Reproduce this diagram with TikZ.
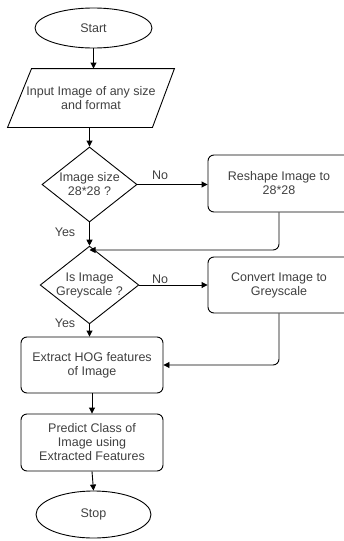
\documentclass[tikz,border=0pt]{standalone}
\usepackage{fontspec}
\setmainfont{Liberation Sans}
\usetikzlibrary{shapes.geometric,arrows.meta,calc}

\begin{document}
\begin{tikzpicture}[x=1pt,y=-1pt,
  line width=0.9pt,
  every node/.style={font=\fontsize{12.5}{14}\selectfont, text=black!75, align=center},
  terminal/.style={draw, ellipse, minimum width=117, minimum height=40, inner sep=0pt},
  decision/.style={draw, diamond, minimum width=95, minimum height=75, inner sep=0pt, aspect=1.27},
  process/.style={draw, rounded corners=6, minimum width=142, minimum height=57, inner sep=0pt},
  flow/.style={-{Triangle[length=6pt,width=6pt]}},
  answer/.style={inner sep=1pt}]
\colorlet{linecol}{black!85};
\def\turn{6};

\useasboundingbox (0,0) rectangle (343,541);

% Start and input
\node[terminal] (start) at (93.5,28) {Start};
\node[minimum width=166, minimum height=58, inner sep=0pt] (input) at (91,98) {Input Image of any size\\and format};
\draw ($(input.north west)+(24,0)$) -- (input.north east) -- ($(input.south east)+(-22,0)$) -- (input.south west) -- cycle;

% Size check
\node[decision] (size) at (89.5,184.5) {Image size\\28*28 ?};
\node[process] (reshape) at (279,183.5) {Reshape Image to\\28*28};

% Greyscale check
\node[decision, minimum height=66, minimum width=95] (grey) at (89.5,285) {Is Image\\Greyscale ?};
\node[process, minimum height=56] (convert) at (279,285) {Convert Image to\\Greyscale};
\coordinate (merge) at (89.5,250);

% Features and prediction
\node[process, minimum height=56] (hog) at (92,365) {Extract HOG features\\of Image};
\node[process] (predict) at (92,442.5) {Predict Class of\\Image using\\Extracted Features};
\node[terminal, minimum width=115, minimum height=47] (stop) at (93.5,514.5) {Stop};

% Labels
\node[answer] (no1) at (160,175) {No};
\node[answer] (yes1) at (65,232) {Yes};
\node[answer] (no2) at (160,279) {No};
\node[answer] (yes2) at (65,323) {Yes};

% Connectors
\draw[flow] (start.south) -- (start.south |- input.north);
\draw[flow] (input.south -| size.north) -- (size.north);
\draw[flow] (size.east) -- (size.east -| reshape.west);
\draw[flow] (size.south) -- (grey.north);
\draw[flow, rounded corners=\turn] (reshape.south) |- (merge);
\draw[flow] (grey.east) -- (grey.east -| convert.west);
\draw[flow] (grey.south) -- (grey.south |- hog.north);
\draw[flow, rounded corners=\turn] (convert.south) |- (hog.east);
\draw[flow] (hog.south) -- (predict.north);
\draw[flow] (predict.south) -- (stop.north);
\end{tikzpicture}
\end{document}
